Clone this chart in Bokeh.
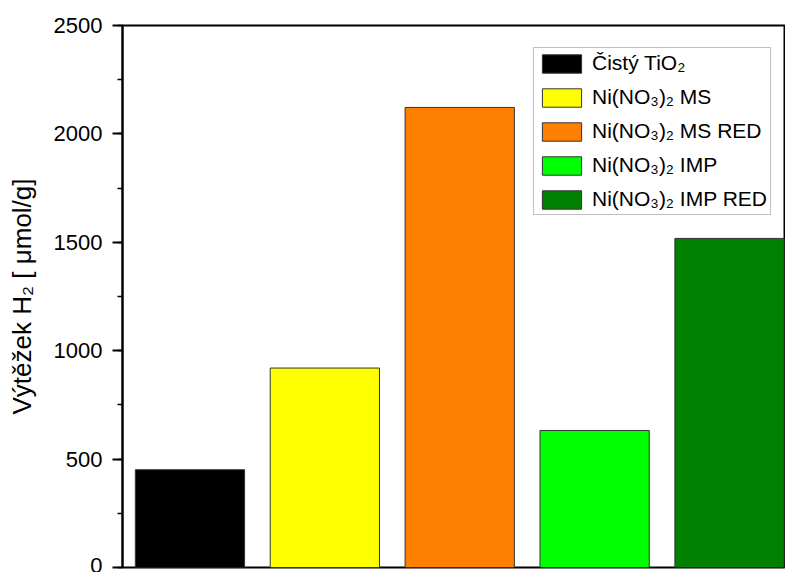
from bokeh.plotting import figure
from bokeh.models import ColumnDataSource, Range1d, SingleIntervalTicker, Legend, LegendItem
from bokeh.embed import file_html
from bokeh.resources import INLINE

categories = ["Čistý TiO₂", "Ni(NO₃)₂ MS", "Ni(NO₃)₂ MS RED", "Ni(NO₃)₂ IMP", "Ni(NO₃)₂ IMP RED"]
values = [451, 920, 2122, 632, 1518]
colors = ["#000000", "#FFFF00", "#FF8000", "#00FF00", "#008000"]
positions = [1, 2, 3, 4, 5]

FONT = "Liberation Sans"

p = figure(width=785, height=572, output_backend="svg", toolbar_location=None,
           x_range=Range1d(0.5, 5.415), y_range=Range1d(0, 2500),
           min_border_left=122, min_border_top=25, min_border_bottom=5, min_border_right=0,
           x_axis_location=None)
p.background_fill_color = "white"
p.border_fill_color = "white"
p.grid.visible = False
p.outline_line_color = "black"
p.outline_line_width = 2

src = ColumnDataSource(dict(x=positions, top=values, color=colors, label=categories))
r = p.vbar(x="x", top="top", width=0.81, source=src, fill_color="color",
           line_color="#333333", line_width=1)

ax = p.yaxis[0]
ax.ticker = SingleIntervalTicker(interval=500, num_minor_ticks=2)
ax.axis_line_width = 2
ax.major_tick_line_width = 2
ax.minor_tick_line_width = 1.5
ax.major_tick_out = 10
ax.major_tick_in = 0
ax.minor_tick_out = 5
ax.minor_tick_in = 0
ax.major_label_text_font = FONT
ax.major_label_text_font_size = "22px"
ax.major_label_text_color = "black"
ax.major_label_standoff = 10
ax.axis_label = "Výtěžek H₂ [ μmol/g]"
ax.axis_label_text_font = FONT
ax.axis_label_text_font_size = "26px"
ax.axis_label_text_font_style = "normal"
ax.axis_label_text_color = "black"
ax.axis_label_standoff = 14

items = [LegendItem(label=categories[i], renderers=[r], index=i) for i in range(len(categories))]
legend = Legend(items=items, location=(411, 352))
legend.label_text_font = FONT
legend.label_text_font_size = "21px"
legend.label_text_color = "black"
legend.glyph_width = 49
legend.glyph_height = 23
legend.label_height = 23
legend.spacing = 10
legend.padding = 3
legend.margin = 0
legend.label_standoff = 6
legend.border_line_color = "#808080"
legend.border_line_width = 1
legend.background_fill_color = "white"
legend.background_fill_alpha = 1
p.add_layout(legend)

open("out.html", "w").write(file_html(p, INLINE))
